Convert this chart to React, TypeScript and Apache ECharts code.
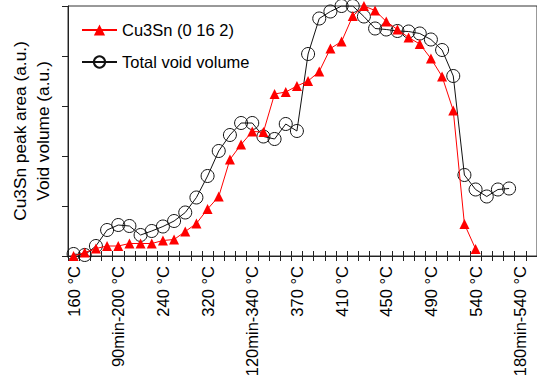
import React, { useEffect, useRef } from "react";
import * as echarts from "echarts";

const categories: string[] = [
  "160 °C", "170 °C", "180 °C", "190 °C", "90min-200 °C", "210 °C", "220 °C", "230 °C",
  "240 °C", "260 °C", "280 °C", "300 °C", "320 °C", "330 °C", "340 °C", "60min-340 °C",
  "120min-340 °C", "345 °C", "350 °C", "360 °C", "370 °C", "380 °C", "390 °C", "400 °C",
  "410 °C", "420 °C", "430 °C", "440 °C", "450 °C", "460 °C", "470 °C", "480 °C",
  "490 °C", "500 °C", "510 °C", "520 °C", "540 °C", "60min-540 °C", "90min-540 °C", "120min-540 °C",
  "180min-540 °C", "240min-540 °C",
];

const cu3snPeakArea: number[] = [
  0.0, 0.07, 0.15, 0.2, 0.2, 0.25, 0.25, 0.25, 0.31, 0.33, 0.49, 0.65, 0.94, 1.19, 1.93, 2.23,
  2.49, 2.48, 3.24, 3.28, 3.4, 3.5, 3.69, 4.15, 4.29, 4.8, 5.0, 4.91, 4.69, 4.53, 4.37, 4.24,
  3.95, 3.59, 2.91, 0.64, 0.14,
];

const totalVoidVolume: number[] = [
  0.04, 0.02, 0.2, 0.52, 0.62, 0.6, 0.42, 0.5, 0.59, 0.7, 0.87, 1.17, 1.6, 2.1, 2.42, 2.66,
  2.66, 2.39, 2.34, 2.64, 2.5, 4.04, 4.75, 4.89, 5.0, 5.0, 4.79, 4.55, 4.53, 4.5, 4.49, 4.45,
  4.33, 4.12, 3.6, 1.62, 1.33, 1.19, 1.33, 1.35,
];

const seriesNames: string[] = ["Cu3Sn (0 16 2)", "Total void volume"];
const yAxisTitle = "Cu3Sn peak area (a.u.)\nVoid volume (a.u.)";

const FONT = "'Liberation Sans', Arial, sans-serif";

export default function App() {
  const ref = useRef<HTMLDivElement>(null);

  useEffect(() => {
    if (!ref.current) return;
    const chart = echarts.init(ref.current, undefined, { renderer: "svg" });
    const axisColor = "#222";
    chart.setOption({
      animation: false,
      textStyle: { fontFamily: FONT },
      grid: {
        left: 66,
        right: -4,
        top: 6,
        bottom: 127,
        show: true,
        borderColor: "#333",
        borderWidth: 1,
        backgroundColor: "transparent",
      },
      legend: {
        orient: "vertical",
        left: 81,
        top: 20,
        padding: 0,
        itemWidth: 35,
        itemHeight: 14,
        itemGap: 12,
        data: seriesNames,
        textStyle: { fontSize: 16.5, color: "#000", fontFamily: FONT, lineHeight: 20 },
      },
      xAxis: [
        {
          type: "category",
          data: categories,
          boundaryGap: true,
          position: "bottom",
          axisLine: { show: true, lineStyle: { color: axisColor, width: 1 } },
          axisTick: { show: true, interval: 0, length: 5, lineStyle: { color: axisColor } },
          axisLabel: {
            interval: 3,
            rotate: 90,
            margin: 10,
            fontSize: 16.5,
            color: "#000",
            fontFamily: FONT,
          },
          splitLine: { show: false },
        },
        {
          type: "category",
          data: categories,
          boundaryGap: true,
          position: "bottom",
          axisLine: { show: false },
          axisTick: { show: true, inside: true, interval: 0, length: 5, lineStyle: { color: axisColor } },
          axisLabel: { show: false },
          splitLine: { show: false },
        },
      ],
      yAxis: {
        type: "value",
        min: 0,
        max: 5,
        interval: 1,
        axisLine: { show: true, lineStyle: { color: axisColor, width: 1 } },
        axisTick: { show: true, length: 6, lineStyle: { color: axisColor } },
        axisLabel: { show: false },
        splitLine: { show: false },
        name: yAxisTitle,
        nameLocation: "middle",
        nameGap: 14,
        nameTextStyle: { fontSize: 17.3, lineHeight: 23, color: "#000", fontFamily: FONT },
      },
      series: [
        {
          name: seriesNames[1],
          type: "line",
          data: totalVoidVolume,
          symbol: "circle",
          symbolSize: 13,
          showAllSymbol: true,
          itemStyle: { color: "rgba(0,0,0,0)", borderColor: "#111", borderWidth: 1 },
          lineStyle: { color: "#111", width: 1 },
          z: 2,
        },
        {
          name: seriesNames[0],
          type: "line",
          data: cu3snPeakArea,
          symbol: "triangle",
          symbolSize: 10,
          showAllSymbol: true,
          itemStyle: { color: "#ff0000" },
          lineStyle: { color: "#ff0000", width: 1 },
          z: 3,
        },
      ],
    });
    return () => chart.dispose();
  }, []);

  return (
    <div
      ref={ref}
      style={{ position: "absolute", left: 0, top: 0, width: 537, height: 383, background: "#fff" }}
    />
  );
}
